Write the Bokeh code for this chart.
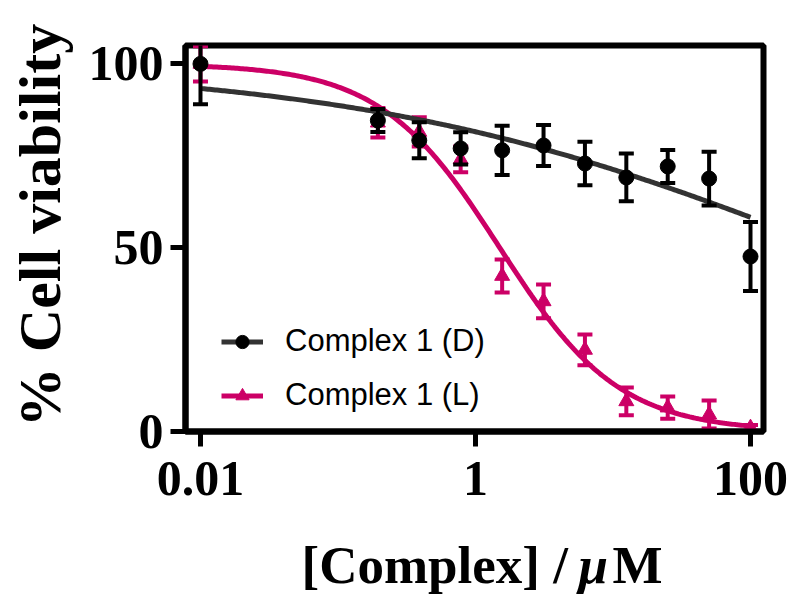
import numpy as np
from bokeh.plotting import figure
from bokeh.layouts import row, column
from bokeh.models import (Range1d, FixedTicker, CustomJSTickFormatter, Legend,
                          LegendItem, Label, ColumnDataSource)
from bokeh.embed import file_html
from bokeh.resources import INLINE

# Concentrations (µM) and viability (% of control), mean and SD
conc = [0.01, 0.195, 0.39, 0.78, 1.5625, 3.125, 6.25, 12.5, 25, 50, 100]
d_mean = [100, 84.6, 79.2, 77, 76.5, 77.8, 72.9, 69.1, 72.1, 68.8, 47.6]
d_err = [11, 3.1, 4.9, 4.4, 6.7, 5.6, 5.9, 6.5, 4.5, 7.3, 9.4]
l_mean = [100, 84, 81.5, 74, 42.3, 35.4, 22.2, 8.2, 6.5, 4.6, 1.0]
l_err = [4.8, 4, 4, 3.5, 4.5, 4.6, 4.2, 3.8, 3, 3.8, 0.8]

series_labels = ["Complex 1 (D)", "Complex 1 (L)"]
x_ticks = [0.01, 1, 100]
y_ticks = [0, 50, 100]

# Four-parameter logistic fits: top, bottom, IC50 (µM), Hill slope
d_fit = dict(top=100, bottom=0, ic50=380, hill=0.25)
l_fit = dict(top=100, bottom=0, ic50=1.5, hill=1.0)

D_COLOR = "#000000"
D_LINE = "#333333"
L_COLOR = "#CC0066"
SERIF = "Liberation Serif"

TITLE_W = 75      # strip holding the vertical axis title
TITLE_H = 70      # strip holding the horizontal axis title
W, H = 793, 595
FRAME_LEFT = 185
FRAME_BOTTOM = 431


def logistic(x, top, bottom, ic50, hill):
    return bottom + (top - bottom) / (1 + (x / ic50) ** hill)


def blank_strip(width, height):
    f = figure(width=width, height=height, x_range=Range1d(0, 1),
               y_range=Range1d(0, 1), output_backend="svg",
               toolbar_location=None, min_border=0)
    f.axis.visible = False
    f.grid.visible = False
    f.outline_line_color = None
    f.background_fill_color = "white"
    f.border_fill_color = "white"
    return f


xs = np.logspace(np.log10(conc[0]), np.log10(conc[-1]), 300)

p = figure(width=W - TITLE_W, height=H - TITLE_H, x_axis_type="log",
           x_range=Range1d(10 ** -2.109, 10 ** 2.0945), y_range=Range1d(0, 105),
           output_backend="svg", toolbar_location=None,
           min_border_left=FRAME_LEFT - TITLE_W, min_border_right=30,
           min_border_top=45, min_border_bottom=H - TITLE_H - FRAME_BOTTOM)
p.background_fill_color = "white"
p.border_fill_color = "white"
p.grid.visible = False
p.outline_line_color = "black"
p.outline_line_width = 6


def draw_series(mean, err, fit, color, line_color, marker):
    src = ColumnDataSource(dict(
        x=conc, y=mean,
        lo=[m - e for m, e in zip(mean, err)],
        hi=[m + e for m, e in zip(mean, err)]))
    curve = p.line(xs, logistic(xs, **fit), line_color=line_color, line_width=5)
    p.segment(x0="x", y0="lo", x1="x", y1="hi", source=src,
              line_color=color, line_width=4)
    p.scatter(x="x", y="hi", source=src, marker="dash", size=15,
              line_color=color, line_width=4)
    p.scatter(x="x", y="lo", source=src, marker="dash", size=15,
              line_color=color, line_width=4)
    pts = p.scatter(x="x", y="y", source=src, marker=marker, size=15,
                    fill_color=color, line_color=color)
    return curve, pts


l_curve, l_pts = draw_series(l_mean, l_err, l_fit, L_COLOR, L_COLOR, "triangle")
d_curve, d_pts = draw_series(d_mean, d_err, d_fit, D_COLOR, D_LINE, "circle")

for ax in (p.xaxis[0], p.yaxis[0]):
    ax.axis_line_width = 6
    ax.axis_line_color = "black"
    ax.major_tick_line_width = 5
    ax.major_tick_line_color = "black"
    ax.major_tick_out = 15
    ax.major_tick_in = 0
    ax.minor_tick_line_color = None
    ax.major_label_text_font = SERIF
    ax.major_label_text_font_style = "bold"
    ax.major_label_text_font_size = "50px"
    ax.major_label_text_color = "black"

p.xaxis.ticker = FixedTicker(ticks=x_ticks)
p.xaxis.formatter = CustomJSTickFormatter(code="return String(tick)")
p.xaxis.major_label_standoff = 15
p.yaxis.ticker = FixedTicker(ticks=y_ticks)
p.yaxis.major_label_standoff = 7

legend = Legend(items=[
    LegendItem(label=series_labels[0], renderers=[d_curve, d_pts]),
    LegendItem(label=series_labels[1], renderers=[l_curve, l_pts]),
], location=(36, 18), padding=0, margin=0, spacing=18,
    glyph_width=42, glyph_height=33, label_height=33, label_standoff=22,
    label_text_font="Liberation Sans", label_text_font_size="31px",
    label_text_color="black", background_fill_alpha=0,
    border_line_color=None)
p.add_layout(legend, "center")

# Vertical axis title (strip frame spans the full strip)
ytitle = blank_strip(TITLE_W, H)
ytitle.add_layout(Label(x=72, y=H - 225, x_units="screen", y_units="screen",
                        text="% Cell viability", angle=90, angle_units="deg",
                        text_align="center", text_baseline="bottom",
                        text_font=SERIF, text_font_style="bold",
                        text_font_size="60px", text_color="black"))

# Horizontal axis title with an italic micro sign; the strip's frame lines up
# with the plot frame, so x offsets are measured from the frame's left edge
xtitle = blank_strip(W - TITLE_W, TITLE_H)
for txt, xpos, style in (("[Complex] / ", 301, "bold"),
                         ("\u03bc", 578, "bold italic"),
                         ("M", 612, "bold")):
    xtitle.add_layout(Label(x=xpos - FRAME_LEFT, y=2, x_units="screen",
                            y_units="screen", text=txt, text_align="left",
                            text_baseline="bottom", text_font=SERIF,
                            text_font_style=style, text_font_size="53px",
                            text_color="black"))

layout = row(ytitle, column(p, xtitle, spacing=0), spacing=0)
open("out.html", "w").write(file_html(layout, INLINE))
